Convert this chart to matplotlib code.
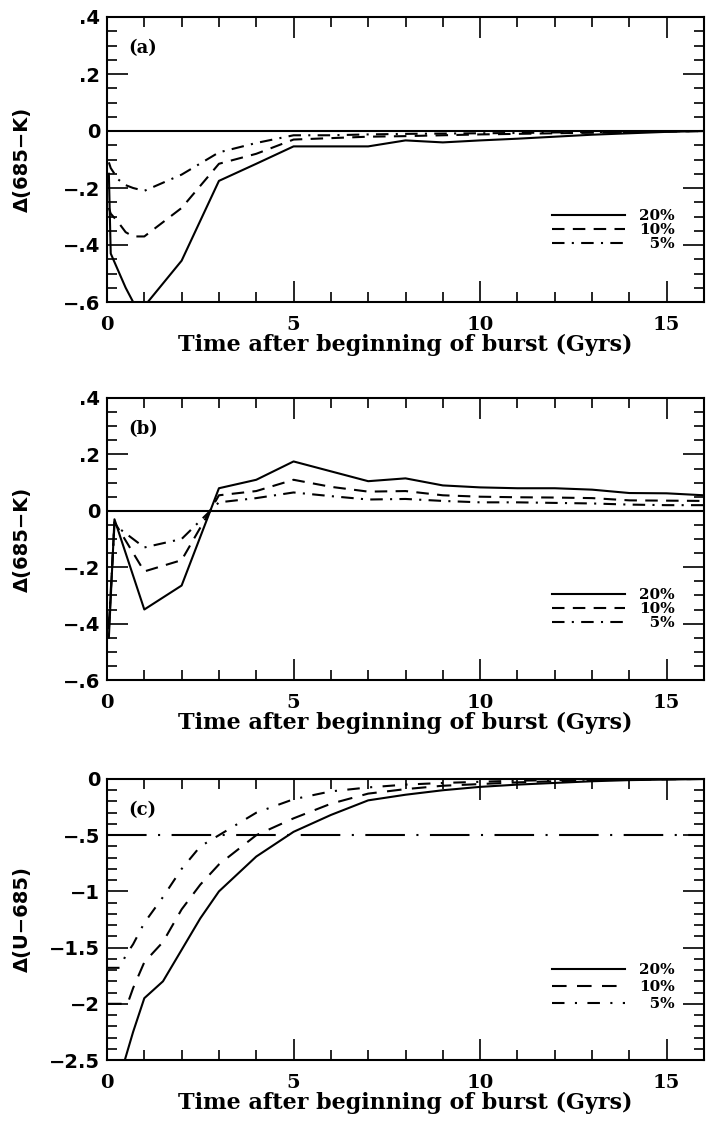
import numpy as np
import matplotlib
matplotlib.use("Agg")
import matplotlib.pyplot as plt
from matplotlib.ticker import MultipleLocator, FuncFormatter

# panel (a): Delta(685-K)
t_a = [0.05, 0.1, 0.3, 0.5, 0.7, 1, 2, 3, 4, 5, 6, 7, 8, 9, 10, 11, 12, 13, 14, 15, 16]
a_20 = [-0.15, -0.43, -0.49, -0.55, -0.60, -0.615, -0.455, -0.175, -0.115, -0.054, -0.054, -0.054,
        -0.033, -0.04, -0.033, -0.027, -0.02, -0.013, -0.008, -0.003, 0.0]
a_10 = [-0.27, -0.29, -0.32, -0.355, -0.37, -0.37, -0.27, -0.115, -0.08, -0.03, -0.025, -0.02,
        -0.018, -0.015, -0.012, -0.01, -0.008, -0.006, -0.004, -0.002, 0.0]
a_5 = [-0.11, -0.13, -0.17, -0.19, -0.2, -0.21, -0.153, -0.075, -0.042, -0.015, -0.015, -0.012,
       -0.01, -0.009, -0.008, -0.007, -0.005, -0.004, -0.003, -0.001, 0.0]

# panel (b): Delta(685-K)
t_b = [0.05, 0.2, 1, 2, 3, 4, 5, 6, 7, 8, 9, 10, 11, 12, 13, 14, 15, 16]
b_20 = [-0.45, -0.03, -0.35, -0.265, 0.08, 0.11, 0.175, 0.14, 0.105, 0.115, 0.09, 0.083,
        0.08, 0.08, 0.075, 0.063, 0.062, 0.055]
b_10 = [-0.42, -0.04, -0.215, -0.175, 0.055, 0.07, 0.11, 0.085, 0.068, 0.07, 0.055, 0.05,
        0.048, 0.047, 0.045, 0.037, 0.036, 0.035]
b_5 = [-0.40, -0.05, -0.13, -0.10, 0.03, 0.045, 0.065, 0.052, 0.04, 0.042, 0.035, 0.03,
       0.03, 0.028, 0.026, 0.022, 0.02, 0.02]

# panel (c): Delta(U-685)
t_c20 = [0.3, 0.7, 1, 1.5, 2, 2.5, 3, 4, 5, 6, 7, 8, 9, 10, 11, 12, 13, 14, 15, 16]
c_20 = [-2.7, -2.25, -1.95, -1.8, -1.52, -1.24, -1.0, -0.69, -0.47, -0.32, -0.19, -0.14,
        -0.1, -0.07, -0.05, -0.035, -0.02, -0.01, -0.005, 0.0]
t_c10 = [0, 0.55, 0.7, 1, 1.5, 2, 2.5, 3, 4, 5, 6, 7, 8, 9, 10, 11, 12, 13, 14, 15, 16]
c_10 = [-2.0, -2.0, -1.86, -1.63, -1.45, -1.16, -0.94, -0.76, -0.5, -0.35, -0.22, -0.13,
        -0.09, -0.06, -0.045, -0.03, -0.02, -0.012, -0.006, -0.002, 0.0]
t_c5 = [0, 0.35, 0.5, 0.7, 1, 1.5, 2, 2.5, 3, 4, 5, 6, 7, 8, 9, 10, 11, 12, 13, 14, 15, 16]
c_5 = [-1.68, -1.68, -1.57, -1.47, -1.28, -1.05, -0.8, -0.6, -0.5, -0.3, -0.18, -0.11,
       -0.075, -0.05, -0.035, -0.025, -0.015, -0.01, -0.005, 0.0, 0.0, 0.0]
c_ref = -0.5

labels = ["20%", "10%", "\u20075%"]

XFONT = "DejaVu Serif"
YFONT = "DejaVu Sans"


def fmt_tick(v, pos):
    if abs(v) < 1e-9:
        return "0"
    s = f"{abs(v):g}"
    if s.startswith("0."):
        s = s[1:]
    return ("\u2212" if v < 0 else "") + s


def setup_axes(ax, ylim, ymajor, yminor, ylabel, tag):
    ax.set_xlim(0, 16)
    ax.set_ylim(*ylim)
    ax.xaxis.set_major_locator(MultipleLocator(5))
    ax.xaxis.set_minor_locator(MultipleLocator(1))
    ax.yaxis.set_major_locator(MultipleLocator(ymajor))
    ax.yaxis.set_minor_locator(MultipleLocator(yminor))
    ax.yaxis.set_major_formatter(FuncFormatter(fmt_tick))
    ax.tick_params(which="both", direction="in", top=True, right=True, width=1.2)
    ax.tick_params(which="major", length=15)
    ax.tick_params(which="minor", length=7.5)
    ax.tick_params(axis="x", pad=10)
    ax.tick_params(axis="y", pad=5)
    for t in ax.get_xticklabels():
        t.set_fontfamily(XFONT)
        t.set_fontweight("bold")
        t.set_fontsize(14)
    for t in ax.get_yticklabels():
        t.set_fontfamily(YFONT)
        t.set_fontweight("bold")
        t.set_fontsize(14)
    for s in ax.spines.values():
        s.set_linewidth(1.5)
    ax.set_xlabel("Time after beginning of burst (Gyrs)", fontfamily=XFONT,
                  fontweight="bold", fontsize=16, labelpad=0)
    ax.set_ylabel(ylabel, fontfamily=YFONT, fontweight="bold", fontsize=14)
    ax.yaxis.set_label_coords(-0.125, 0.5)
    ax.text(0.035, 0.89, tag, transform=ax.transAxes, fontfamily=XFONT,
            fontweight="bold", fontsize=13, va="center", ha="left")


def add_legend(ax, handles, y, spacing):
    leg = ax.legend(handles, labels, loc="center right", bbox_to_anchor=(0.951, y),
                    frameon=False, handlelength=4.8, handletextpad=0.9,
                    labelspacing=spacing, borderpad=0, borderaxespad=0,
                    prop={"family": XFONT, "weight": "bold", "size": 11})
    return leg


fig = plt.figure(figsize=(7.1, 11.25), dpi=100)
left, width = 107 / 710, 597 / 710
ax_a = fig.add_axes([left, 1 - 302 / 1125, width, 285 / 1125])
ax_b = fig.add_axes([left, 1 - 680 / 1125, width, 282 / 1125])
ax_c = fig.add_axes([left, 1 - 1060 / 1125, width, 281 / 1125])

lw = 1.5
dash = (0, (6, 4))
dashdot = (0, (6, 3.5, 1, 3.5))

# (a)
ax_a.axhline(0, color="black", lw=lw)
h1, = ax_a.plot(t_a, a_20, color="black", lw=lw)
h2, = ax_a.plot(t_a, a_10, color="black", lw=lw, linestyle=dash)
h3, = ax_a.plot(t_a, a_5, color="black", lw=lw, linestyle=dashdot)
setup_axes(ax_a, (-0.6, 0.4), 0.2, 0.05, "\u0394(685\u2212K)", "(a)")
add_legend(ax_a, [h1, h2, h3], 0.253, 0.0)

# (b)
ax_b.axhline(0, color="black", lw=lw)
h1, = ax_b.plot(t_b, b_20, color="black", lw=lw)
h2, = ax_b.plot(t_b, b_10, color="black", lw=lw, linestyle=dash)
h3, = ax_b.plot(t_b, b_5, color="black", lw=lw, linestyle=dashdot)
setup_axes(ax_b, (-0.6, 0.4), 0.2, 0.05, "\u0394(685\u2212K)", "(b)")
add_legend(ax_b, [h1, h2, h3], 0.252, 0.0)

# (c)
ax_c.axhline(c_ref, color="black", lw=lw, linestyle=(0, (19, 5.5, 1, 5.5)))
h1, = ax_c.plot(t_c20, c_20, color="black", lw=lw)
h2, = ax_c.plot(t_c10, c_10, color="black", lw=lw, linestyle=(0, (7, 5)))
h3, = ax_c.plot(t_c5, c_5, color="black", lw=lw, linestyle=(0, (6, 5, 1, 5)))
setup_axes(ax_c, (-2.5, 0), 0.5, 0.1, "\u0394(U\u2212685)", "(c)")
add_legend(ax_c, [h1, h2, h3], 0.26, 0.2)

fig.savefig("out.png", dpi=100)
